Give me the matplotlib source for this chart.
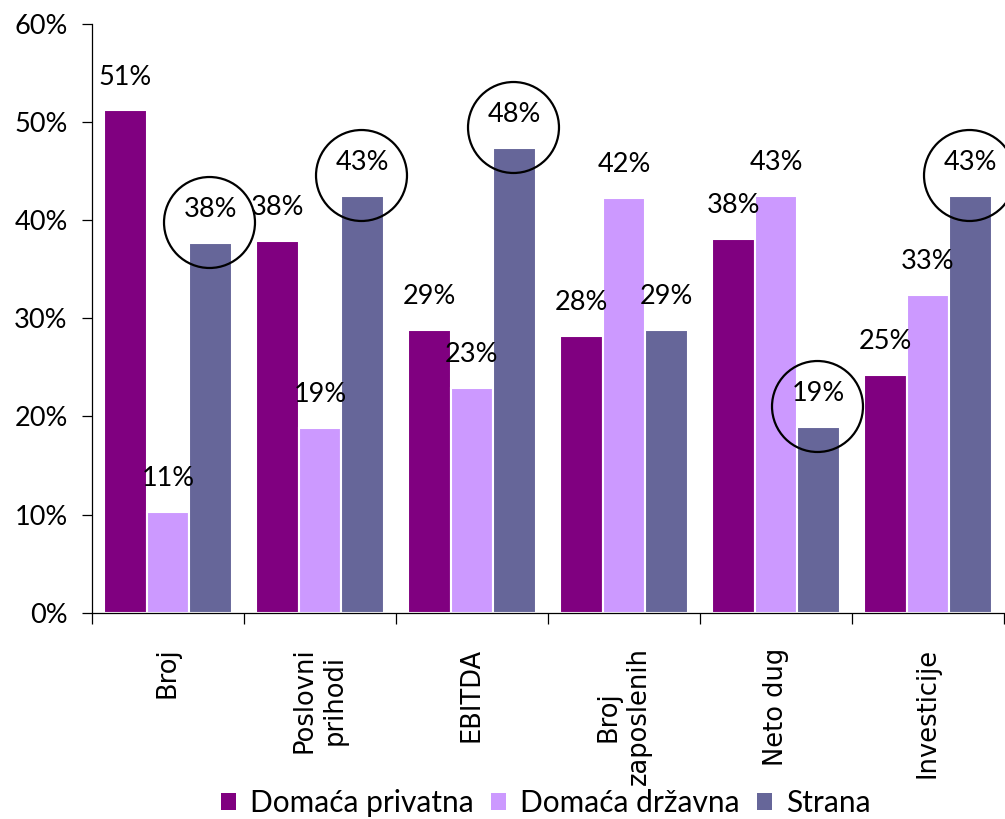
import matplotlib
matplotlib.use("Agg")
import matplotlib.pyplot as plt
import matplotlib.transforms as mtransforms
from matplotlib.patches import Patch
import numpy as np

categories = ["Broj", "Poslovni\nprihodi", "EBITDA", "Broj\nzaposlenih", "Neto dug", "Investicije"]
series_names = ["Domaća privatna", "Domaća državna", "Strana"]
privatna = [51.2, 37.9, 28.8, 28.2, 38.1, 24.2]
drzavna = [10.3, 18.8, 22.9, 42.3, 42.5, 32.4]
strana = [37.7, 42.5, 47.4, 28.8, 18.9, 42.5]
labels_privatna = ["51%", "38%", "29%", "28%", "38%", "25%"]
labels_drzavna = ["11%", "19%", "23%", "42%", "43%", "33%"]
labels_strana = ["38%", "43%", "48%", "29%", "19%", "43%"]
circled_strana = [0, 1, 2, 4, 5]  # category indices whose "Strana" bar is circled
yticks = [0, 10, 20, 30, 40, 50, 60]
ytick_labels = ["0%", "10%", "20%", "30%", "40%", "50%", "60%"]

colors = ["#800080", "#CC99FF", "#666699"]
num_font = "Lato"

fig = plt.figure(figsize=(10.05, 8.19), dpi=100)
ax = fig.add_axes([0.0915, 0.2519, 0.9075, 0.7188])

x = np.arange(len(categories))
step = 0.279
values = [privatna, drzavna, strana]
labels = [labels_privatna, labels_drzavna, labels_strana]
label_offset = mtransforms.offset_copy(ax.transData, fig=fig, x=0, y=24, units="points")
for i, (vals, labs) in enumerate(zip(values, labels)):
    xs = x + (i - 1) * step
    ax.bar(xs, vals, width=step, color=colors[i], edgecolor="white", linewidth=1.5,
           label=series_names[i], zorder=2)
    for xi, v, t in zip(xs, vals, labs):
        ax.text(xi, v, t, transform=label_offset, ha="center", va="center",
                fontsize=19.5, family=num_font, color="black", zorder=4)

circle_offset = mtransforms.offset_copy(ax.transData, fig=fig, x=-1, y=15, units="points")
for c in circled_strana:
    ax.plot([x[c] + step], [strana[c]], marker="o", markersize=65.5, markerfacecolor="none",
            markeredgecolor="black", markeredgewidth=1.6, transform=circle_offset,
            clip_on=False, zorder=5)

ax.set_xlim(-0.5, len(categories) - 0.5)
ax.set_ylim(0, 60)
ax.set_yticks(yticks)
ax.set_yticklabels(ytick_labels, family=num_font, fontsize=19.5)
ax.tick_params(axis="y", length=7.5, width=0.9, pad=10, colors="black")

ax.set_xticks(x)
ax.set_xticklabels(categories, rotation=90, ha="center", va="top",
                   multialignment="center", fontsize=18.5, family="DejaVu Sans")
ax.tick_params(axis="x", which="major", length=0, pad=25)
ax.set_xticks(np.arange(len(categories) + 1) - 0.5, minor=True)
ax.tick_params(axis="x", which="minor", length=8, width=0.9, colors="black")

for s in ["top", "right"]:
    ax.spines[s].set_visible(False)
for s in ["left", "bottom"]:
    ax.spines[s].set_linewidth(0.9)
    ax.spines[s].set_color("black")

handles = [Patch(facecolor=colors[i], edgecolor="none") for i in range(3)]
fig.legend(handles, series_names, loc="lower center", bbox_to_anchor=(0.543, -0.03), ncol=3,
           frameon=False, prop={"family": num_font, "size": 21.5},
           handlelength=0.5, handleheight=0.5, handletextpad=0.45, columnspacing=0.6)

fig.savefig("out.png", dpi=100)
